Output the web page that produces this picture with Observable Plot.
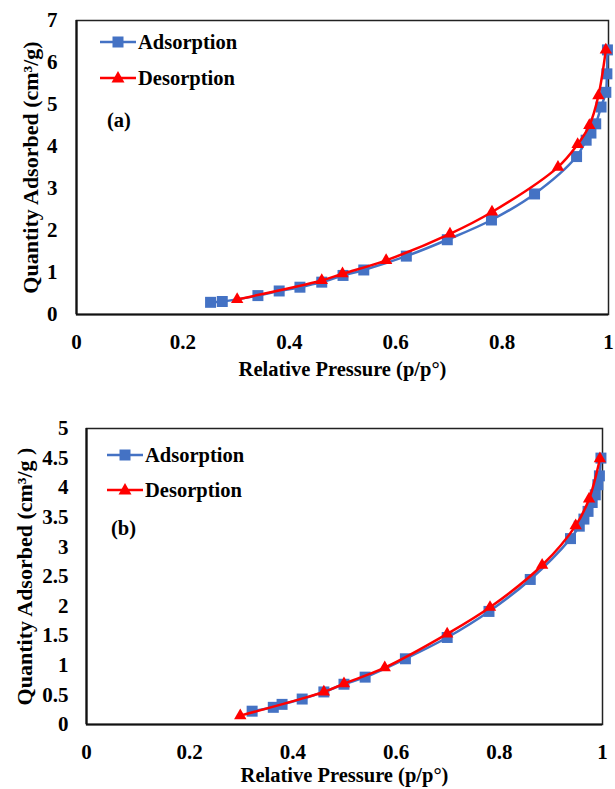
<!DOCTYPE html>
<html>
<head>
<meta charset="utf-8">
<script src="https://cdn.jsdelivr.net/npm/d3@7"></script>
<script src="https://cdn.jsdelivr.net/npm/@observablehq/plot@0.6"></script>
<style>
  html, body { margin: 0; padding: 0; background: #fff; }
  #wrap { width: 615px; }
  #wrap svg { display: block; }
</style>
</head>
<body>
<div id="wrap"></div>
<script>
// ---- Data ----
const xTicks = [0, 0.2, 0.4, 0.6, 0.8, 1];
const yTicksA = [0, 1, 2, 3, 4, 5, 6, 7];
const yTicksB = [0, 0.5, 1, 1.5, 2, 2.5, 3, 3.5, 4, 4.5, 5];
const seriesNames = ["Adsorption", "Desorption"];
const panelLabels = ["(a)", "(b)"];
const xTitle = "Relative Pressure (p/p°)";
const yTitles = ["Quantity Adsorbed (cm³/g)", "Quantity Adsorbed (cm³/g )"];

const adsA_x = [0.252, 0.274, 0.341, 0.381, 0.420, 0.461, 0.501, 0.540, 0.620, 0.697, 0.780, 0.861, 0.940, 0.958, 0.967, 0.976, 0.986, 0.995, 0.997, 0.998];
const adsA_y = [0.29, 0.31, 0.45, 0.56, 0.65, 0.77, 0.93, 1.06, 1.39, 1.78, 2.25, 2.87, 3.76, 4.15, 4.32, 4.54, 4.94, 5.29, 5.73, 6.30];
const desA_x = [0.302, 0.461, 0.500, 0.582, 0.702, 0.781, 0.905, 0.942, 0.964, 0.981, 0.995];
const desA_y = [0.36, 0.81, 0.97, 1.29, 1.92, 2.44, 3.51, 4.05, 4.50, 5.21, 6.30];

const adsB_x = [0.321, 0.362, 0.379, 0.418, 0.460, 0.499, 0.540, 0.618, 0.699, 0.780, 0.860, 0.938, 0.955, 0.964, 0.972, 0.980, 0.986, 0.991, 0.994, 0.997];
const adsB_y = [0.225, 0.29, 0.34, 0.43, 0.55, 0.68, 0.80, 1.11, 1.47, 1.91, 2.45, 3.14, 3.35, 3.47, 3.60, 3.75, 3.88, 4.05, 4.20, 4.50];
const desB_x = [0.298, 0.460, 0.499, 0.578, 0.699, 0.782, 0.883, 0.948, 0.974, 0.995];
const desB_y = [0.15, 0.55, 0.69, 0.96, 1.53, 1.98, 2.69, 3.36, 3.81, 4.49];

// ---- Styles ----
const BLUE = "#4472C4";
const RED = "#FF0000";
const FONT = "'Liberation Serif', 'Times New Roman', serif";

const zip = (xs, ys) => xs.map((x, i) => ({x, y: ys[i]}));

function legendMark(opts) {
  return () => {
    const g = d3.create("svg:g")
      .attr("font-family", FONT)
      .attr("font-weight", "bold")
      .attr("font-size", 20.5)
      .attr("text-anchor", "start")
      .attr("fill", "#000");
    const colors = [BLUE, RED];
    seriesNames.forEach((name, i) => {
      const y = opts.y + i * opts.dy;
      g.append("line")
        .attr("x1", opts.x).attr("x2", opts.x + 36)
        .attr("y1", y).attr("y2", y)
        .attr("stroke", colors[i]).attr("stroke-width", 2.5);
      const cx = opts.x + 18;
      if (i === 0) {
        g.append("rect").attr("x", cx - 5.5).attr("y", y - 5.5)
          .attr("width", 11).attr("height", 11).attr("fill", BLUE);
      } else {
        g.append("path")
          .attr("d", `M${cx},${y - 7}L${cx + 6.5},${y + 4.5}L${cx - 6.5},${y + 4.5}Z`)
          .attr("fill", RED);
      }
      g.append("text").attr("x", opts.x + 38).attr("y", y).attr("dy", "0.35em").text(name);
    });
    g.append("text").attr("x", opts.lx).attr("y", opts.ly).attr("dy", "0.35em").text(opts.label);
    return g.node();
  };
}

function panel({ads, des, yDomain, yTicks, height, mt, mb, ml, mr, yLabel, legend, xTitleDy, yTitleDx, yPad}) {
  return Plot.plot({
    width: 615,
    height,
    marginTop: mt,
    marginBottom: mb,
    marginLeft: ml,
    marginRight: mr,
    style: { fontFamily: FONT, fontWeight: "bold", fontSize: "21px", color: "#000", background: "#fff", overflow: "visible" },
    x: { domain: [0, 1] },
    y: { domain: yDomain },
    marks: [
      Plot.frame({ stroke: "#222", strokeWidth: 1.5 }),
      Plot.axisX({ ticks: xTicks, tickSize: 0, tickPadding: 20, tickFormat: d => String(d), fontSize: 21, label: null }),
      Plot.axisY({ ticks: yTicks, tickSize: 0, tickPadding: yPad, tickFormat: d => String(d), fontSize: 21, label: null }),
      Plot.text([xTitle], { text: d => d, frameAnchor: "bottom", dy: xTitleDy, lineAnchor: "middle", fontSize: 20.5, fontWeight: "bold", fill: "#000" }),
      Plot.text([yLabel], { text: d => d, frameAnchor: "left", dx: yTitleDx, rotate: -90, lineAnchor: "middle", textAnchor: "middle", fontSize: 22, fontWeight: "bold", fill: "#000" }),
      Plot.ruleY([yDomain[0]], { stroke: "#111", strokeWidth: 2.2 }),
      Plot.ruleX([0], { stroke: "#111", strokeWidth: 2.2 }),
      Plot.line(ads, { x: "x", y: "y", stroke: BLUE, strokeWidth: 2.5, curve: "catmull-rom" }),
      Plot.dot(ads, { x: "x", y: "y", symbol: "square", r: 6.2, fill: BLUE, stroke: "none" }),
      Plot.line(des, { x: "x", y: "y", stroke: RED, strokeWidth: 2.5, curve: "catmull-rom" }),
      Plot.dot(des, { x: "x", y: "y", symbol: "triangle", r: 4.6, fill: RED, stroke: "none" }),
      legendMark(legend)
    ]
  });
}

const wrap = document.getElementById("wrap");

wrap.appendChild(panel({
  ads: zip(adsA_x, adsA_y), des: zip(desA_x, desA_y),
  yDomain: [0, 7], yTicks: yTicksA,
  height: 390, mt: 20, mb: 76, ml: 76, mr: 7,
  yLabel: yTitles[0],
  legend: { x: 100, y: 42, dy: 36, label: panelLabels[0], lx: 107, ly: 120 },
  xTitleDy: 55, yTitleDx: -46, yPad: 19
}));

wrap.appendChild(panel({
  ads: zip(adsB_x, adsB_y), des: zip(desB_x, desB_y),
  yDomain: [0, 5], yTicks: yTicksB,
  height: 399, mt: 38, mb: 65, ml: 86, mr: 13,
  yLabel: yTitles[1],
  legend: { x: 107, y: 65, dy: 35, label: panelLabels[1], lx: 111, ly: 138 },
  xTitleDy: 51, yTitleDx: -62, yPad: 18
}));
</script>
</body>
</html>
